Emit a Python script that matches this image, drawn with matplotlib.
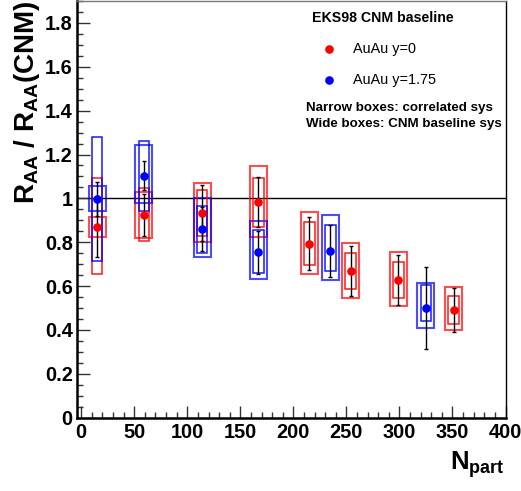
import matplotlib
matplotlib.use("Agg")
import matplotlib.pyplot as plt
from matplotlib.patches import Rectangle
from matplotlib.lines import Line2D
from matplotlib.ticker import MultipleLocator

plt.rcParams['font.family'] = ['Liberation Sans', 'DejaVu Sans']
plt.rcParams['mathtext.fontset'] = 'custom'
plt.rcParams['mathtext.rm'] = 'Liberation Sans:bold'
plt.rcParams['mathtext.bf'] = 'Liberation Sans:bold'
plt.rcParams['mathtext.it'] = 'Liberation Sans:bold'

# ---- data: AuAu y=0 (red) ----
red_npart = [15, 59, 114, 167, 215, 254, 299, 351]
red_val = [0.871, 0.925, 0.932, 0.982, 0.793, 0.669, 0.628, 0.492]
red_err = [0.140, 0.097, 0.127, 0.114, 0.120, 0.113, 0.113, 0.100]
red_corr_lo = [0.655, 0.807, 0.828, 0.868, 0.695, 0.585, 0.547, 0.428]
red_corr_hi = [1.091, 1.046, 1.036, 1.091, 0.891, 0.752, 0.708, 0.556]
red_cnm_lo = [0.825, 0.820, 0.800, 0.822, 0.655, 0.546, 0.509, 0.398]
red_cnm_hi = [0.913, 1.027, 1.068, 1.146, 0.939, 0.796, 0.754, 0.594]

# ---- data: AuAu y=1.75 (blue) ----
blue_npart = [15, 59, 114, 167, 235, 325]
blue_val = [0.997, 1.103, 0.859, 0.754, 0.761, 0.501]
blue_err = [0.079, 0.067, 0.100, 0.099, 0.119, 0.188]
blue_corr_lo = [0.714, 0.942, 0.752, 0.658, 0.669, 0.439]
blue_corr_hi = [1.281, 1.262, 0.965, 0.855, 0.878, 0.603]
blue_cnm_lo = [0.942, 0.980, 0.734, 0.634, 0.626, 0.409]
blue_cnm_hi = [1.056, 1.242, 1.003, 0.897, 0.924, 0.613]

x_ticks = [0, 50, 100, 150, 200, 250, 300, 350, 400]
y_ticks = [0, 0.2, 0.4, 0.6, 0.8, 1, 1.2, 1.4, 1.6, 1.8]
y_tick_labels = ['0', '0.2', '0.4', '0.6', '0.8', '1', '1.2', '1.4', '1.6', '1.8']

RED = '#ff0000'
BLUE = '#0000ff'
NARROW_HW = 5.0
WIDE_HW = 8.0

fig = plt.figure(figsize=(5.21, 4.91), dpi=100)
ax = fig.add_axes([77/521, (491-417.7)/491, (505.5-77)/521, (417.7-1)/491])
ax.set_xlim(-4, 400)
ax.set_ylim(0, 1.9)

ax.axhline(1.0, color='black', lw=1.0, zorder=1)

def boxes(xs, lo, hi, hw, color, lw, alpha):
    for x, l, h in zip(xs, lo, hi):
        ax.add_patch(Rectangle((x - hw, l), 2 * hw, h - l, fill=False,
                               edgecolor=color, lw=lw, alpha=alpha, zorder=2))

boxes(red_npart, red_cnm_lo, red_cnm_hi, WIDE_HW, RED, 1.5, 0.7)
boxes(blue_npart, blue_cnm_lo, blue_cnm_hi, WIDE_HW, BLUE, 1.5, 0.7)
boxes(red_npart, red_corr_lo, red_corr_hi, NARROW_HW, RED, 1.1, 0.9)
boxes(blue_npart, blue_corr_lo, blue_corr_hi, NARROW_HW, BLUE, 1.1, 0.9)

ax.errorbar(red_npart, red_val, yerr=red_err, fmt='none', ecolor='black',
            elinewidth=1.0, capsize=1.2, capthick=1.0, zorder=3)
ax.errorbar(blue_npart, blue_val, yerr=blue_err, fmt='none', ecolor='black',
            elinewidth=1.0, capsize=1.2, capthick=1.0, zorder=3)
ax.plot(red_npart, red_val, 'o', color=RED, ms=6.2, mew=0, zorder=4)
ax.plot(blue_npart, blue_val, 'o', color=BLUE, ms=6.2, mew=0, zorder=4)

# axes styling (ROOT-like)
ax.xaxis.set_major_locator(MultipleLocator(50))
ax.xaxis.set_minor_locator(MultipleLocator(10))
ax.set_xticks(x_ticks)
ax.set_xticklabels([str(t) for t in x_ticks])
ax.set_yticks(y_ticks)
ax.set_yticklabels(y_tick_labels)
ax.yaxis.set_minor_locator(MultipleLocator(0.05))
ax.tick_params(which='both', direction='in', top=False, right=False, width=1.0, color='#333333')
ax.tick_params(which='major', length=9)
ax.tick_params(which='minor', length=4.3)
ax.tick_params(axis='x', which='major', pad=4)
ax.tick_params(axis='y', which='major', pad=3)
for lab in ax.get_xticklabels() + ax.get_yticklabels():
    lab.set_fontsize(14.4)
    lab.set_fontweight('bold')
ax.spines['left'].set_linewidth(1.8)
ax.spines['bottom'].set_linewidth(1.8)
ax.spines['top'].set_linewidth(1.0)
ax.spines['right'].set_linewidth(1.0)
ax.spines['top'].set_color('#777777')

# axis titles
fig.text(27/521, 1 - 102/491, r'R$_{\rm AA}$ / R$_{\rm AA}$(CNM)', rotation=90,
         ha='center', va='center', fontsize=20, fontweight='bold')
fig.text(505/521, 1 - 470/491, r'N$_{\rm part}$', ha='right', va='baseline',
         fontsize=18.5, fontweight='bold')

# legend
fig.text(383/521, 1 - 17.5/491, 'EKS98 CNM baseline', ha='center', va='center',
         fontsize=10.2, fontweight='bold')
fig.add_artist(Line2D([329.3/521], [1 - 49/491], marker='o', color=RED, ms=6.2, mew=0, ls='none'))
fig.add_artist(Line2D([329.3/521], [1 - 80/491], marker='o', color=BLUE, ms=6.2, mew=0, ls='none'))
fig.text(353.3/521, 1 - 49.3/491, 'AuAu y=0', ha='left', va='center', fontsize=10.4)
fig.text(353.3/521, 1 - 80/491, 'AuAu y=1.75', ha='left', va='center', fontsize=10.4)
fig.text(305.7/521, 1 - 108.3/491, 'Narrow boxes: correlated sys', ha='left', va='center',
         fontsize=9.6, fontweight='bold')
fig.text(305.7/521, 1 - 124/491, 'Wide boxes: CNM baseline sys', ha='left', va='center',
         fontsize=9.6, fontweight='bold')

fig.savefig('out.png', dpi=100)
